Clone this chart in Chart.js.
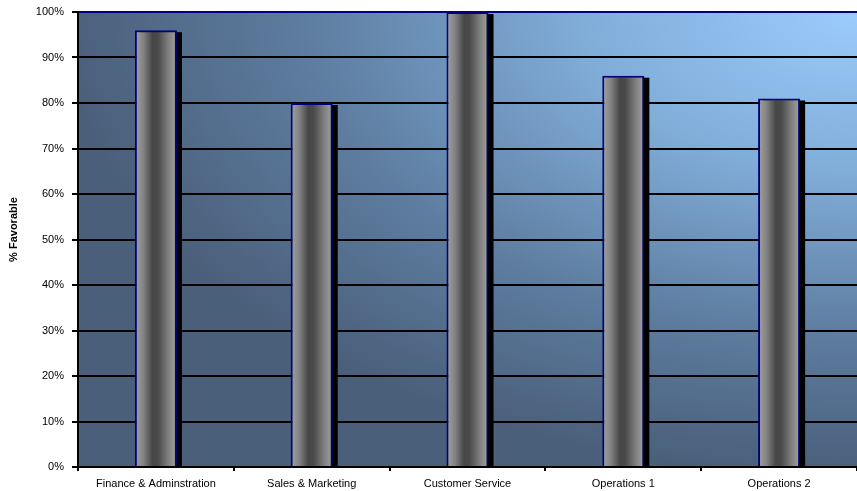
<!DOCTYPE html>
<html>
<head>
<meta charset="utf-8">
<script src="https://cdn.jsdelivr.net/npm/chart.js@4/dist/chart.umd.min.js"></script>
<style>
    body { margin: 0; background: #ffffff; }
    canvas { display: block; }
</style>
</head>
<body>
<canvas id="chart" width="857" height="491"></canvas>
<script>
const departments = ['Finance & Adminstration', 'Sales & Marketing', 'Customer Service', 'Operations 1', 'Operations 2'];
const favorable = [96, 80, 100, 86, 81];
const percentTicks = [0, 10, 20, 30, 40, 50, 60, 70, 80, 90, 100];
const yTitle = '% Favorable';

const FONT = 'Arial, "Liberation Sans", sans-serif';

// slate-to-sky fill behind the plot, brightest in the upper right corner
const plotBackground = {
    id: 'plotBackground',
    beforeDraw(chart) {
        const { ctx, chartArea: a } = chart;
        const w = a.right - a.left;
        const h = a.bottom - a.top;
        ctx.save();
        ctx.beginPath();
        ctx.rect(a.left, a.top, w, h);
        ctx.clip();
        ctx.translate(a.right, a.top);
        ctx.scale(w / h, 1);
        const g = ctx.createRadialGradient(0, 0, 0, 0, 0, h * 1.02);
        g.addColorStop(0, '#9cccfc');
        g.addColorStop(0.35, '#80acd8');
        g.addColorStop(0.7, '#5d7c9f');
        g.addColorStop(1, '#4a5f7a');
        ctx.fillStyle = g;
        ctx.fillRect(-h * 2, 0, h * 2, h);
        ctx.restore();
    }
};

// hard black drop shadow to the right of every column
const barShadow = {
    id: 'barShadow',
    beforeDatasetsDraw(chart) {
        const { ctx } = chart;
        const meta = chart.getDatasetMeta(0);
        ctx.save();
        ctx.fillStyle = '#000000';
        meta.data.forEach(bar => {
            const left = bar.x - bar.width / 2 + 5;
            ctx.fillRect(left, bar.y + 2, bar.width, bar.base - bar.y - 2);
        });
        ctx.restore();
    }
};

// rotated axis title, sitting a little above the middle of the axis
const axisTitle = {
    id: 'axisTitle',
    afterDraw(chart) {
        const { ctx, chartArea: a } = chart;
        ctx.save();
        ctx.translate(14, (a.top + a.bottom) / 2 - 10);
        ctx.rotate(-Math.PI / 2);
        ctx.font = 'bold 11px ' + FONT;
        ctx.fillStyle = '#000000';
        ctx.textAlign = 'center';
        ctx.textBaseline = 'middle';
        ctx.fillText(yTitle, 0, 0);
        ctx.restore();
    }
};

function cylinderFill(context) {
    const chart = context.chart;
    const xScale = chart.scales.x;
    if (!xScale || !chart.chartArea) return '#777777';
    const cx = xScale.getPixelForValue(context.dataIndex);
    const half = xScale.width / departments.length * 0.27 / 2;
    const g = chart.ctx.createLinearGradient(cx - half, 0, cx + half, 0);
    g.addColorStop(0, '#a2a2a2');
    g.addColorStop(0.2, '#838383');
    g.addColorStop(0.42, '#464646');
    g.addColorStop(0.55, '#4a4a4a');
    g.addColorStop(0.8, '#808080');
    g.addColorStop(1, '#a4a4a4');
    return g;
}

new Chart(document.getElementById('chart'), {
    type: 'bar',
    data: {
        labels: departments,
        datasets: [{
            label: yTitle,
            data: favorable,
            backgroundColor: cylinderFill,
            borderColor: '#000080',
            borderWidth: 2,
            borderSkipped: 'bottom',
            barPercentage: 0.27,
            categoryPercentage: 1
        }]
    },
    options: {
        responsive: false,
        animation: false,
        layout: { padding: { top: 12, right: 0, left: 0, bottom: 0 } },
        plugins: {
            legend: { display: false },
            tooltip: { enabled: false }
        },
        scales: {
            x: {
                offset: true,
                afterFit(scale) { scale.height = 24; },
                grid: {
                    offset: true,
                    drawOnChartArea: false,
                    color: '#000000',
                    lineWidth: 2,
                    tickLength: 4
                },
                border: { color: '#000000', width: 2 },
                ticks: {
                    color: '#000000',
                    font: { family: FONT, size: 11 },
                    padding: 6,
                    maxRotation: 0,
                    autoSkip: false
                }
            },
            y: {
                min: 0,
                max: 100,
                afterFit(scale) {
                    scale.width = 78;
                    scale.paddingTop = 0;
                    scale.paddingBottom = 0;
                },
                afterBuildTicks(scale) {
                    scale.ticks = percentTicks.map(v => ({ value: v }));
                },
                grid: {
                    color: ctx => (ctx.tick && ctx.tick.value === 100 ? '#000080' : '#000000'),
                    tickColor: '#000000',
                    lineWidth: 2,
                    tickLength: 6
                },
                border: { color: '#000000', width: 2 },
                ticks: {
                    color: '#000000',
                    font: { family: FONT, size: 11 },
                    padding: 8,
                    callback: v => v + '%'
                }
            }
        }
    },
    plugins: [plotBackground, barShadow, axisTitle]
});
</script>
</body>
</html>
